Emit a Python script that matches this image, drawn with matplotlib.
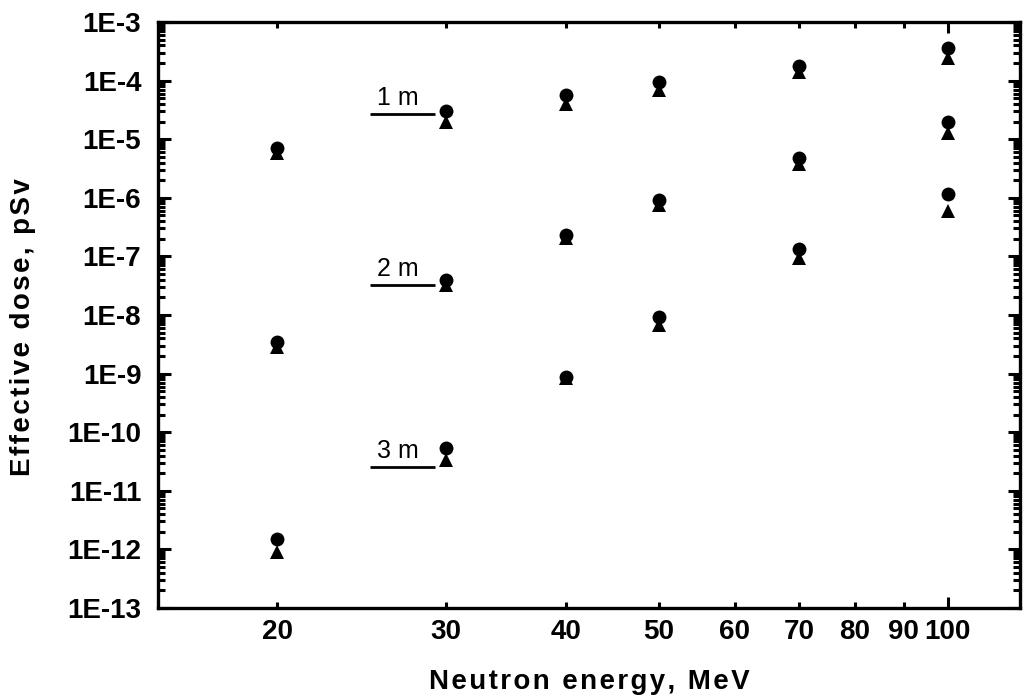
import numpy as np
import matplotlib
matplotlib.use('Agg')
import matplotlib.pyplot as plt
from matplotlib.ticker import FixedLocator, FuncFormatter, LogLocator, NullFormatter

# fonts: narrow sans like the original, fall back if missing
FAM = ['Liberation Sans Narrow', 'Liberation Sans', 'DejaVu Sans']
plt.rcParams['font.family'] = FAM

# ================= data =================
energy = [20, 30, 40, 50, 70, 100]

# circles (filled)
dose_1m_circ = [7.0e-6, 3.0e-5, 5.6e-5, 9.4e-5, 1.75e-4, 3.56e-4]
dose_2m_circ = [3.4e-9, 3.9e-8, 2.3e-7, 9.1e-7, 4.7e-6, 1.95e-5]
dose_3m_circ = [1.5e-12, 5.4e-11, 8.7e-10, 9.2e-9, 1.33e-7, 1.15e-6]

# triangles (filled)
dose_1m_tri = [5.8e-6, 2.0e-5, 4.0e-5, 7.0e-5, 1.42e-4, 2.4e-4]
dose_2m_tri = [2.9e-9, 3.3e-8, 2.1e-7, 7.5e-7, 3.8e-6, 1.26e-5]
dose_3m_tri = [8.9e-13, 3.3e-11, 8.4e-10, 6.7e-9, 9.3e-8, 6.0e-7]

# distance labels with their underline
dist_labels = ['1 m', '2 m', '3 m']
label_level = [2.67e-5, 3.2e-8, 2.5e-11]
label_x0, label_x1 = 25.0, 29.2

x_ticks = [20, 30, 40, 50, 60, 70, 80, 90]

# ================= figure =================
fig = plt.figure(figsize=(10.25, 7), dpi=100)
ax = fig.add_axes([0.1541, 0.1314, 0.841, 0.8372])

for ys in (dose_1m_tri, dose_2m_tri, dose_3m_tri):
    ax.plot(energy, ys, linestyle='none', marker='^', markersize=10,
            color='black', markeredgewidth=0)
for ys in (dose_1m_circ, dose_2m_circ, dose_3m_circ):
    ax.plot(energy, ys, linestyle='none', marker='o', markersize=10,
            color='black', markeredgewidth=0)

for lab, lvl in zip(dist_labels, label_level):
    ax.plot([label_x0, label_x1], [lvl, lvl], color='black', linewidth=2,
            solid_capstyle='butt')
    ax.annotate(lab, xy=(np.sqrt(label_x0 * label_x1) * 0.99, lvl),
                xytext=(0, 3), textcoords='offset points',
                ha='center', va='bottom', fontsize=18, family=FAM)

ax.set_xscale('log')
ax.set_yscale('log')
ax.set_xlim(15.03, 118.9)
ax.set_ylim(1e-13, 1e-3)

# x ticks: 100 is the decade tick (long), the rest short
ax.xaxis.set_major_locator(FixedLocator([100]))
ax.xaxis.set_minor_locator(FixedLocator(x_ticks))
fmt_x = FuncFormatter(lambda v, p: f'{v:.0f}')
ax.xaxis.set_major_formatter(fmt_x)
ax.xaxis.set_minor_formatter(fmt_x)

# y ticks: decades labelled as 1E-n
ax.yaxis.set_major_locator(LogLocator(base=10, numticks=20))
ax.yaxis.set_minor_locator(LogLocator(base=10, subs=np.arange(2, 10), numticks=200))
ax.yaxis.set_minor_formatter(NullFormatter())
ax.yaxis.set_major_formatter(FuncFormatter(
    lambda v, p: '1E-%d' % round(-np.log10(v))))

for sp in ax.spines.values():
    sp.set_linewidth(2.4)

ax.tick_params(axis='both', which='both', direction='in', top=True, right=True,
               width=2.2, labelsize=20)
ax.tick_params(axis='x', which='major', length=8, pad=8)
ax.tick_params(axis='x', which='minor', length=4, pad=8)
ax.tick_params(axis='y', which='major', length=9, pad=12)
ax.tick_params(axis='y', which='minor', length=5)
for t in ax.get_xticklabels(which='both') + ax.get_yticklabels():
    t.set_fontweight('bold')

ax.set_xlabel('\u200a'.join('Neutron energy, MeV'), fontsize=20,
              fontweight='bold')
ax.set_ylabel('\u200a'.join('Effective dose, pSv'), fontsize=20,
              fontweight='bold')
ax.yaxis.set_label_coords(-0.141, 0.48)
ax.xaxis.set_label_coords(0.5, -0.104)

fig.savefig('out.png', dpi=100)
